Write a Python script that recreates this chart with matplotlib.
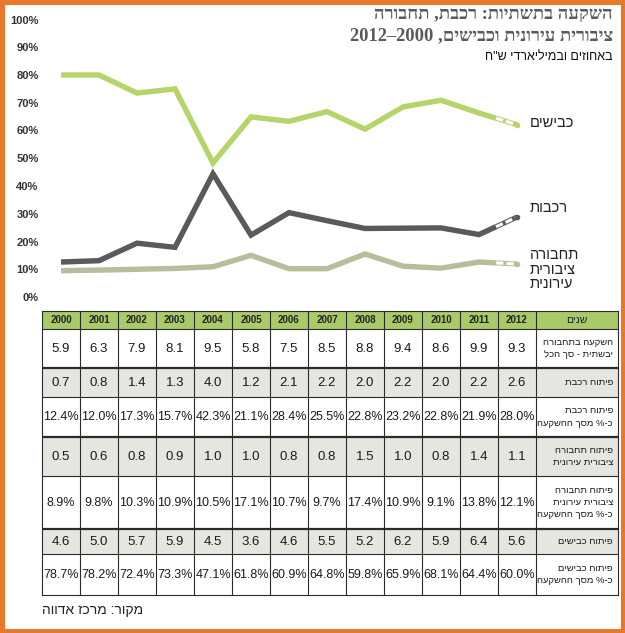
import matplotlib
matplotlib.use('Agg')
import matplotlib.pyplot as plt
from matplotlib.patches import Rectangle

W, H = 625, 633

# chart values (in percent)
years = [2000, 2001, 2002, 2003, 2004, 2005, 2006, 2007, 2008, 2009, 2010, 2011, 2012]
roads_line = [80, 80, 73.5, 75, 48.3, 64.9, 63.3, 66.8, 60.5, 68.5, 70.9, 66.3, 62.1]
rail_line = [12.6, 13.1, 19.4, 17.9, 44.4, 22.3, 30.4, 27.5, 24.7, 24.8, 24.9, 22.5, 28.8]
pt_line = [9.5, 9.7, 10.0, 10.3, 10.9, 15.0, 10.2, 10.2, 15.5, 11.1, 10.4, 12.6, 11.9]

# table values
total_invest = ['5.9', '6.3', '7.9', '8.1', '9.5', '5.8', '7.5', '8.5', '8.8', '9.4', '8.6', '9.9', '9.3']
rail = ['0.7', '0.8', '1.4', '1.3', '4.0', '1.2', '2.1', '2.2', '2.0', '2.2', '2.0', '2.2', '2.6']
rail_pct = ['12.4%', '12.0%', '17.3%', '15.7%', '42.3%', '21.1%', '28.4%', '25.5%', '22.8%', '23.2%', '22.8%', '21.9%', '28.0%']
pt = ['0.5', '0.6', '0.8', '0.9', '1.0', '1.0', '0.8', '0.8', '1.5', '1.0', '0.8', '1.4', '1.1']
pt_pct = ['8.9%', '9.8%', '10.3%', '10.9%', '10.5%', '17.1%', '10.7%', '9.7%', '17.4%', '10.9%', '9.1%', '13.8%', '12.1%']
roads = ['4.6', '5.0', '5.7', '5.9', '4.5', '3.6', '4.6', '5.5', '5.2', '6.2', '5.9', '6.4', '5.6']
roads_pct = ['78.7%', '78.2%', '72.4%', '73.3%', '47.1%', '61.8%', '60.9%', '64.8%', '59.8%', '65.9%', '68.1%', '64.4%', '60.0%']

row_labels = [
    ['השקעה בתחבורה', 'יבשתית - סך הכל'],
    ['פיתוח רכבת'],
    ['פיתוח רכבת', 'כ-% מסך ההשקעה'],
    ['פיתוח תחבורה', 'ציבורית עירונית'],
    ['פיתוח תחבורה', 'ציבורית עירונית', 'כ-% מסך ההשקעה'],
    ['פיתוח כבישים'],
    ['פיתוח כבישים', 'כ-% מסך ההשקעה'],
]
table_rows = [total_invest, rail, rail_pct, pt, pt_pct, roads, roads_pct]

GREEN = '#b5d56b'
DARK = '#5a5a5c'
PTCOL = '#b6be9d'
ORANGE = '#e8782a'
NARROW = ['Liberation Sans Narrow', 'Liberation Sans', 'DejaVu Sans']
SANS = ['Liberation Sans', 'DejaVu Sans']


def heb(s):
    # matplotlib has no bidi, so Hebrew is written in visual order
    return s[::-1]


def fx(px):
    return px / W


def fy(py):
    return 1 - py / H


fig = plt.figure(figsize=(W / 100, H / 100), dpi=100)

# ---- line chart ----
ax = fig.add_axes([fx(42), fy(297), fx(536) - fx(42), fy(19.5) - fy(297)])
idx = list(range(len(years)))
cut = 0.45
for vals, col in [(roads_line, GREEN), (rail_line, DARK), (pt_line, PTCOL)]:
    mid = vals[11] + (vals[12] - vals[11]) * cut
    ax.plot(idx[:12] + [11 + cut], vals[:12] + [mid], color=col, lw=3.9,
            solid_joinstyle='miter', solid_capstyle='butt', clip_on=False)
    ax.plot([11 + cut, 12], [mid, vals[12]], color=col, lw=3.7,
            solid_capstyle='butt', clip_on=False)
    ax.plot([11 + cut, 11.97], [mid, mid + (vals[12] - mid) * 0.94], color='white', lw=2.2,
            linestyle=(0, (2.4, 1.0)), clip_on=False)
    ax.plot([12], [vals[12]], 'o', color=col, ms=3, clip_on=False)

ax.set_xlim(-0.5, 12.5)
ax.set_ylim(0, 100)
ax.set_yticks(range(0, 101, 10))
ax.set_yticklabels([f'{v}%' for v in range(0, 101, 10)])
ax.tick_params(axis='y', length=0, pad=2.5, labelsize=8, labelcolor='#333333')
for lab in ax.get_yticklabels():
    lab.set_family(NARROW)
    lab.set_fontweight('bold')
ax.set_xticks([])
for sp in ax.spines.values():
    sp.set_visible(False)
ax.patch.set_alpha(0)

# series labels
lab_kw = dict(fontsize=10.5, color='#222222', family=SANS, ha='left', va='center')
fig.text(fx(530), fy(123), heb('כבישים'), **lab_kw)
fig.text(fx(530), fy(208), heb('רכבות'), **lab_kw)
fig.text(fx(530), fy(255), heb('תחבורה'), **lab_kw)
fig.text(fx(530), fy(270), heb('ציבורית'), **lab_kw)
fig.text(fx(530), fy(284), heb('עירונית'), **lab_kw)

# title
title_kw = dict(fontsize=13.3, color='#5a5a5a', fontweight='bold',
                family=['Liberation Serif', 'DejaVu Sans'], ha='right', va='center')
fig.text(fx(613), fy(14), heb('השקעה בתשתיות: רכבת, תחבורה'), **title_kw)
fig.text(fx(613), fy(36), '2012–2000 ,' + heb('ציבורית עירונית וכבישים'), **title_kw)
fig.text(fx(613), fy(57), heb('באחוזים ובמיליארדי ש"ח'), fontsize=9, color='#111111',
         family=SANS, ha='right', va='center')

# ---- table ----
tx0, tx1, ty0, ty1 = 42, 618, 311, 595
tax = fig.add_axes([fx(tx0), fy(ty1), fx(tx1) - fx(tx0), fy(ty0) - fy(ty1)])
tax.set_xlim(0, tx1 - tx0)
tax.set_ylim(ty1 - ty0, 0)
tax.axis('off')

cw = 38
ncol = len(years)
row_edges = [0, 18, 57, 86, 126, 165, 218, 243, 284]
gray_rows = [1, 3, 5]
right = tx1 - tx0

tax.add_patch(Rectangle((0, 0), right, row_edges[1], fc='#a9ca69', ec='none'))
for r in gray_rows:
    y0 = row_edges[r + 1]
    tax.add_patch(Rectangle((0, y0), right, row_edges[r + 2] - y0, fc='#e6e6e1', ec='none'))

for i, y in enumerate(row_edges):
    thick = (i - 1) in gray_rows
    tax.plot([0, right], [y, y], color='#2b2b2b', lw=1.6 if thick else 0.8,
             solid_capstyle='butt', clip_on=False)
for c in range(ncol + 2):
    x = c * cw if c <= ncol else right
    tax.plot([x, x], [0, row_edges[-1]], color='#2b2b2b', lw=0.8, clip_on=False)

hy = row_edges[1] / 2
for c, yr in enumerate(years):
    tax.text(c * cw + cw / 2, hy + 0.5, str(yr), ha='center', va='center', fontsize=7,
             fontweight='bold', family=NARROW, color='#222222')
tax.text((ncol * cw + right) / 2, hy + 0.5, heb('שנים'), ha='center', va='center',
         fontsize=7.5, family=NARROW, color='#222222')

for r, vals in enumerate(table_rows):
    yc = (row_edges[r + 1] + row_edges[r + 2]) / 2
    for c, v in enumerate(vals):
        tax.text(c * cw + cw / 2, yc + 0.5, v, ha='center', va='center',
                 fontsize=9 if '%' in v else 9.5, family=NARROW, color='#1a1a1a')
    tax.text(right - 5, yc, '\n'.join(heb(s) for s in row_labels[r]), ha='right',
             va='center', multialignment='right', fontsize=6.8, family=NARROW,
             color='#1a1a1a', linespacing=1.45)

fig.text(fx(42), fy(610), heb('מקור: מרכז אדווה'), fontsize=10, color='#222222',
         family=SANS, ha='left', va='center')

# orange frame
fig.patches.append(Rectangle((0, 0), 1, 1, transform=fig.transFigure, fill=False,
                             ec=ORANGE, lw=6.5))

fig.savefig('out.png', dpi=100, facecolor='white')
